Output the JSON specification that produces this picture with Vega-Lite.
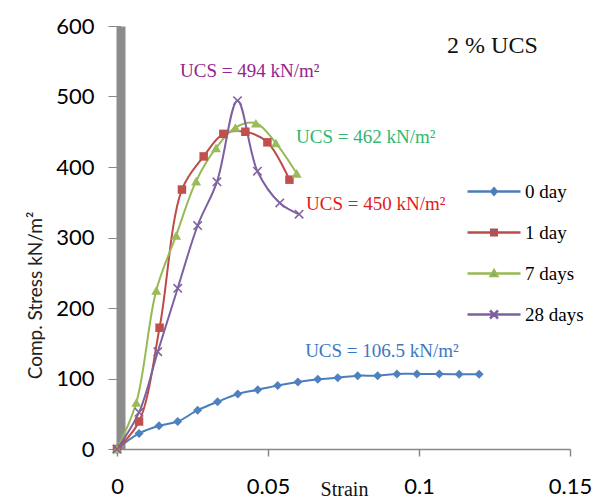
{
  "$schema": "https://vega.github.io/schema/vega-lite/v6.json",
  "width": 453,
  "height": 423,
  "autosize": {"type": "none"},
  "padding": {"left": 117, "top": 26, "right": 34, "bottom": 51},
  "background": "white",
  "config": {"view": {"stroke": null}, "axis": {"grid": false}},
  "datasets": {
    "curves": [
      {"series": "0 day", "strain": 0, "stress": 0},
      {"series": "0 day", "strain": 0.0073, "stress": 22},
      {"series": "0 day", "strain": 0.0139, "stress": 33},
      {"series": "0 day", "strain": 0.0201, "stress": 39},
      {"series": "0 day", "strain": 0.0267, "stress": 55},
      {"series": "0 day", "strain": 0.0333, "stress": 67},
      {"series": "0 day", "strain": 0.04, "stress": 78},
      {"series": "0 day", "strain": 0.0466, "stress": 84},
      {"series": "0 day", "strain": 0.0532, "stress": 90},
      {"series": "0 day", "strain": 0.0599, "stress": 95},
      {"series": "0 day", "strain": 0.0665, "stress": 99},
      {"series": "0 day", "strain": 0.0731, "stress": 101},
      {"series": "0 day", "strain": 0.0797, "stress": 104},
      {"series": "0 day", "strain": 0.0863, "stress": 104},
      {"series": "0 day", "strain": 0.0927, "stress": 106.5},
      {"series": "0 day", "strain": 0.0993, "stress": 106.5},
      {"series": "0 day", "strain": 0.1067, "stress": 106.5},
      {"series": "0 day", "strain": 0.1133, "stress": 106},
      {"series": "0 day", "strain": 0.1199, "stress": 106},
      {"series": "1 day", "strain": 0, "stress": 0},
      {"series": "1 day", "strain": 0.0073, "stress": 39},
      {"series": "1 day", "strain": 0.0141, "stress": 172},
      {"series": "1 day", "strain": 0.0215, "stress": 368},
      {"series": "1 day", "strain": 0.0287, "stress": 415},
      {"series": "1 day", "strain": 0.0352, "stress": 447},
      {"series": "1 day", "strain": 0.0425, "stress": 450},
      {"series": "1 day", "strain": 0.0498, "stress": 435},
      {"series": "1 day", "strain": 0.0571, "stress": 382},
      {"series": "7 days", "strain": 0, "stress": 0},
      {"series": "7 days", "strain": 0.0064, "stress": 66},
      {"series": "7 days", "strain": 0.013, "stress": 225},
      {"series": "7 days", "strain": 0.0196, "stress": 303},
      {"series": "7 days", "strain": 0.0262, "stress": 380},
      {"series": "7 days", "strain": 0.0328, "stress": 427},
      {"series": "7 days", "strain": 0.0392, "stress": 456},
      {"series": "7 days", "strain": 0.046, "stress": 462},
      {"series": "7 days", "strain": 0.0526, "stress": 434},
      {"series": "7 days", "strain": 0.0595, "stress": 391},
      {"series": "28 days", "strain": 0, "stress": 0},
      {"series": "28 days", "strain": 0.0073, "stress": 52},
      {"series": "28 days", "strain": 0.0135, "stress": 138},
      {"series": "28 days", "strain": 0.0201, "stress": 228},
      {"series": "28 days", "strain": 0.0267, "stress": 317},
      {"series": "28 days", "strain": 0.0331, "stress": 379},
      {"series": "28 days", "strain": 0.0399, "stress": 494},
      {"series": "28 days", "strain": 0.0465, "stress": 394},
      {"series": "28 days", "strain": 0.0539, "stress": 349},
      {"series": "28 days", "strain": 0.0603, "stress": 333}
    ]
  },
  "data": {"name": "curves"},
  "layer": [
    {
      "mark": {"type": "line", "interpolate": "catmull-rom", "strokeWidth": 2},
      "encoding": {
        "x": {
          "field": "strain", "type": "quantitative",
          "scale": {"domain": [0, 0.15], "nice": false},
          "axis": {
            "orient": "bottom", "values": [0, 0.05, 0.1, 0.15], "format": ".2~f",
            "tickSize": 7, "tickColor": "#888", "tickWidth": 1.5,
            "domainColor": "#888", "domainWidth": 1.5,
            "labelFont": "Lato", "labelFontSize": 22, "labelColor": "#000",
            "labelPadding": 20, "labelFlush": false, "labelOverlap": false,
            "title": "Strain", "titleFont": "Liberation Serif", "titleFontSize": 20,
            "titleFontWeight": "normal", "titleColor": "#111",
            "titleX": 227, "titleY": 46, "titleAlign": "center", "titleBaseline": "alphabetic"
          }
        },
        "y": {
          "field": "stress", "type": "quantitative",
          "scale": {"domain": [0, 600], "nice": false},
          "axis": {
            "values": [0, 100, 200, 300, 400, 500, 600], "offset": -3.5,
            "domainWidth": 9, "domainColor": "#8c8c8c",
            "tickSize": 12.5, "tickColor": "#888", "tickWidth": 1,
            "labelFont": "Lato", "labelFontSize": 22, "labelColor": "#000",
            "labelPadding": 14, "labelFlush": false, "labelOverlap": false,
            "title": "Comp. Stress kN/m²", "titleFont": "Lato", "titleFontSize": 19,
            "titleFontWeight": "normal", "titleColor": "#222",
            "titleX": -79.5, "titleY": 269, "titleAngle": -90,
            "titleAlign": "center", "titleBaseline": "alphabetic"
          }
        },
        "color": {
          "field": "series", "type": "nominal",
          "scale": {"domain": ["0 day", "1 day", "7 days", "28 days"], "range": ["#4A7EBB", "#BE4B48", "#98B954", "#7D60A0"]},
          "legend": {
            "orient": "none", "legendX": 367.5, "legendY": 156, "title": null,
            "labelFont": "Liberation Serif", "labelFontSize": 19, "labelColor": "#000",
            "labelOffset": 21.5, "rowPadding": 21, "symbolStrokeWidth": 2, "symbolFillColor": "transparent", "symbolSize": 100
          }
        }
      }
    },
    {
      "transform": [{"filter": "datum.series === '0 day'"}],
      "mark": {"type": "point", "shape": "diamond", "filled": true, "size": 81, "color": "#4F81BD", "opacity": 1},
      "encoding": {
        "x": {"field": "strain", "type": "quantitative"},
        "y": {"field": "stress", "type": "quantitative"}
      }
    },
    {
      "transform": [{"filter": "datum.series === '1 day'"}],
      "mark": {"type": "point", "shape": "square", "filled": true, "size": 72, "color": "#C0504D", "opacity": 1},
      "encoding": {
        "x": {"field": "strain", "type": "quantitative"},
        "y": {"field": "stress", "type": "quantitative"}
      }
    },
    {
      "transform": [{"filter": "datum.series === '7 days'"}],
      "mark": {"type": "point", "shape": "triangle-up", "filled": true, "size": 100, "color": "#9BBB59", "opacity": 1},
      "encoding": {
        "x": {"field": "strain", "type": "quantitative"},
        "y": {"field": "stress", "type": "quantitative"}
      }
    },
    {
      "transform": [{"filter": "datum.series === '28 days'"}],
      "mark": {"type": "point", "shape": "M-1,-1L1,1M-1,1L1,-1", "filled": false, "size": 70, "strokeWidth": 1.6, "color": "#8064A2", "opacity": 1},
      "encoding": {
        "x": {"field": "strain", "type": "quantitative"},
        "y": {"field": "stress", "type": "quantitative"}
      }
    },
    {
      "transform": [{"filter": "datum.strain === 0"}],
      "mark": {"type": "point", "filled": true, "size": 100, "opacity": 0, "strokeWidth": 0},
      "encoding": {
        "x": {"field": "strain", "type": "quantitative"},
        "y": {"field": "stress", "type": "quantitative"},
        "shape": {
          "field": "series", "type": "nominal",
          "scale": {
            "domain": ["0 day", "1 day", "7 days", "28 days"],
            "range": [
              "M-5.1,-0.05H5.1V0.05H-5.1ZM0,-0.7L0.6,0L0,0.7L-0.6,0Z",
              "M-5.1,-0.05H5.1V0.05H-5.1ZM-0.6,-0.6H0.6V0.6H-0.6Z",
              "M-5.1,-0.05H5.1V0.05H-5.1ZM0,-0.75L0.75,0.55L-0.75,0.55Z",
              "M-5.1,-0.05H5.1V0.05H-5.1ZM-0.7,-0.62L-0.62,-0.7L0,-0.08L0.62,-0.7L0.7,-0.62L0.08,0L0.7,0.62L0.62,0.7L0,0.08L-0.62,0.7L-0.7,0.62L-0.08,0Z"
            ]
          },
          "legend": {
            "orient": "none", "legendX": 367.5, "legendY": 156, "title": null,
            "labelFont": "Liberation Serif", "labelFontSize": 19, "labelColor": "#000",
            "labelOffset": 21.5, "rowPadding": 21, "symbolStrokeWidth": 2, "symbolOpacity": 1,
            "symbolFillColor": "transparent", "symbolSize": 100
          }
        }
      }
    },
    {
      "data": {"values": [{"label": "UCS = 494 kN/m²", "strain": 0.0209, "stress": 527}]},
      "mark": {"type": "text", "align": "left", "baseline": "alphabetic", "font": "Liberation Serif", "fontSize": 19, "color": "#94248F"},
      "encoding": {
        "x": {"field": "strain", "type": "quantitative"},
        "y": {"field": "stress", "type": "quantitative"},
        "text": {"field": "label"}
      }
    },
    {
      "data": {"values": [{"label": "UCS = 462 kN/m²", "strain": 0.0593, "stress": 433.6}]},
      "mark": {"type": "text", "align": "left", "baseline": "alphabetic", "font": "Liberation Serif", "fontSize": 19, "color": "#2EB872"},
      "encoding": {
        "x": {"field": "strain", "type": "quantitative"},
        "y": {"field": "stress", "type": "quantitative"},
        "text": {"field": "label"}
      }
    },
    {
      "data": {"values": [{"label": "UCS = 450 kN/m²", "strain": 0.0626, "stress": 339}]},
      "mark": {"type": "text", "align": "left", "baseline": "alphabetic", "font": "Liberation Serif", "fontSize": 19, "color": "#E31A1C"},
      "encoding": {
        "x": {"field": "strain", "type": "quantitative"},
        "y": {"field": "stress", "type": "quantitative"},
        "text": {"field": "label"}
      }
    },
    {
      "data": {"values": [{"label": "UCS = 106.5 kN/m²", "strain": 0.0623, "stress": 130}]},
      "mark": {"type": "text", "align": "left", "baseline": "alphabetic", "font": "Liberation Serif", "fontSize": 19, "color": "#3B78C2"},
      "encoding": {
        "x": {"field": "strain", "type": "quantitative"},
        "y": {"field": "stress", "type": "quantitative"},
        "text": {"field": "label"}
      }
    },
    {
      "data": {"values": [{"label": "2 % UCS", "strain": 0.1093, "stress": 561}]},
      "mark": {"type": "text", "align": "left", "baseline": "alphabetic", "font": "Liberation Serif", "fontSize": 24, "color": "#111"},
      "encoding": {
        "x": {"field": "strain", "type": "quantitative"},
        "y": {"field": "stress", "type": "quantitative"},
        "text": {"field": "label"}
      }
    }
  ]
}
